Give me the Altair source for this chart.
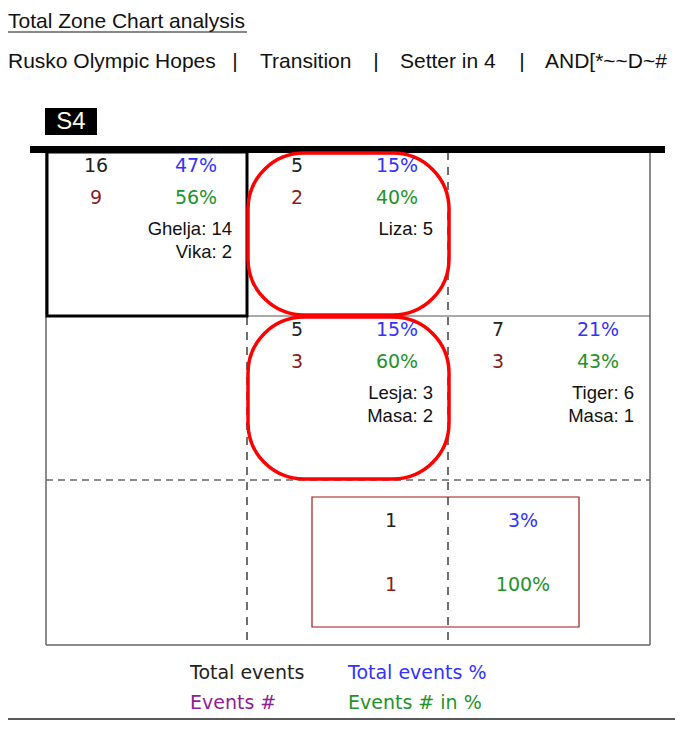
import altair as alt
import pandas as pd

# ---------------- data ----------------
title = "Total Zone Chart analysis"
subtitle_parts = ["Rusko Olympic Hopes", "Transition", "Setter in 4", "AND[*~~D~#"]
rotation = "S4"

zone_ids = ["4", "3", "8", "9"]
zone_col = [0, 1, 1, 2]
zone_row = [0, 0, 1, 1]
zone_total = [16, 5, 5, 7]
zone_total_pct = ["47%", "15%", "15%", "21%"]
zone_events = [9, 2, 3, 3]
zone_events_pct = ["56%", "40%", "60%", "43%"]
zone_players = [["Ghelja: 14", "Vika: 2"], ["Liza: 5"], ["Lesja: 3", "Masa: 2"], ["Tiger: 6", "Masa: 1"]]

back_total = [1]
back_total_pct = ["3%"]
back_events = [1]
back_events_pct = ["100%"]

highlight_zone = ["4"]
circled_zones = ["3", "8"]

legend_labels = ["Total events", "Total events %", "Events #", "Events # in %"]

# ---------------- geometry / style ----------------
COL_X = [46, 247, 448, 650]
ROW_Y = [152, 316, 480, 645]
SUB_X = [8, 260, 400, 545]          # start of each subtitle segment
SEP_X = [235, 376, 522]             # separator bars
BLUE = "#3232ff"
GREEN = "#24922a"
DARKRED = "#8b1c1c"
PURPLE = "#8e1e96"
NUMFONT = "DejaVu Sans"
NAMEFONT = "Liberation Sans"

W, H = 667, 715
xs = alt.Scale(domain=[8, 8 + W], range=[0, W], nice=False, zero=False)
ys = alt.Scale(domain=[8, 8 + H], range=[0, H], nice=False, zero=False)


def X(f="x"):
    return alt.X(f"{f}:Q", scale=xs, axis=None)


def Y(f="y"):
    return alt.Y(f"{f}:Q", scale=ys, axis=None)


def texts(rows, **kw):
    df = pd.DataFrame(rows, columns=["x", "y", "t", "c"])
    return alt.Chart(df).mark_text(baseline="middle", **kw).encode(
        x=X(), y=Y(), text="t:N", color=alt.Color("c:N", scale=None)
    )


def rects(rows, **kw):
    df = pd.DataFrame(rows, columns=["x", "x2", "y", "y2"])
    return alt.Chart(df).mark_rect(fill=None, **kw).encode(
        x=X(), x2="x2:Q", y=Y(), y2="y2:Q"
    )


def rules(rows, **kw):
    df = pd.DataFrame(rows, columns=["x", "x2", "y", "y2"])
    return alt.Chart(df).mark_rule(**kw).encode(
        x=X(), x2="x2:Q", y=Y(), y2="y2:Q"
    )


layers = []

# header
layers.append(texts([[8, 22, title, "#111"]], align="left", font=NAMEFONT, fontSize=21))
layers.append(rules([[8, 247, 32, 32]], color="#111", strokeWidth=1))
layers.append(texts([[x, 62, p, "#111"] for x, p in zip(SUB_X, subtitle_parts)],
                    align="left", font=NAMEFONT, fontSize=21))
layers.append(texts([[x, 62, "|", "#111"] for x in SEP_X], align="center", font=NAMEFONT, fontSize=21))

# rotation badge
layers.append(alt.Chart(pd.DataFrame({"x": [45], "x2": [97], "y": [108], "y2": [135]}))
              .mark_rect(color="black").encode(x=X(), x2="x2:Q", y=Y(), y2="y2:Q"))
layers.append(texts([[71, 122, rotation, "#fffbe0"]], align="center", font=NAMEFONT, fontSize=24))

# court lines
L, R = COL_X[0], COL_X[-1]
T, B = ROW_Y[0], ROW_Y[-1]
layers.append(rules([[L, L, T, B], [R, R, T, B], [L, R, B, B]], color="#666", strokeWidth=1.5))
layers.append(rules([[L, R, ROW_Y[1], ROW_Y[1]]], color="#555", strokeWidth=1.2))
layers.append(rules([[L, R, ROW_Y[2], ROW_Y[2]]], color="#666", strokeWidth=1.3, strokeDash=[7, 5]))
layers.append(rules([[COL_X[1], COL_X[1], T, B], [COL_X[2], COL_X[2], T, B]],
                    color="#222", strokeWidth=1.3, strokeDash=[8, 7]))
# net
layers.append(rules([[30, 665, 149.5, 149.5]], color="black", strokeWidth=7))
# bottom frame line
layers.append(rules([[0, 683, 719, 719]], color="#222", strokeWidth=1.5))

# zone texts
zrows_top, zrows_pct, names = [], [], []
hl, circ = [], []
for zid, c, r, tot, tp, ev, ep, pl in zip(zone_ids, zone_col, zone_row, zone_total,
                                         zone_total_pct, zone_events, zone_events_pct, zone_players):
    x0, y0 = COL_X[c], ROW_Y[r]
    zrows_top += [[x0 + 50, y0 + 14, str(tot), "#222"], [x0 + 150, y0 + 14, tp, BLUE]]
    zrows_pct += [[x0 + 50, y0 + 46, str(ev), DARKRED], [x0 + 150, y0 + 46, ep, GREEN]]
    for i, p in enumerate(pl):
        names.append([x0 + 186, y0 + 77 + 23 * i, p, "#111"])
    if zid in highlight_zone:
        hl.append([x0 + 1, COL_X[c + 1], y0, ROW_Y[r + 1]])
    if zid in circled_zones:
        circ.append([x0 + 1, COL_X[c + 1] + 1, y0 + 1, ROW_Y[r + 1] - 1])

layers.append(rects(hl, stroke="black", strokeWidth=3))
layers.append(rects(circ, stroke="#ff0000", strokeWidth=3.5, cornerRadius=56))
layers.append(texts(zrows_top + zrows_pct, align="center", font=NUMFONT, fontSize=19))
layers.append(texts(names, align="right", font=NAMEFONT, fontSize=18.5))

# back-row box
bx0, bx1, by0, by1 = 312, 579, 497, 627
layers.append(rects([[bx0, bx1, by0, by1]], stroke="#a01818", strokeWidth=1.2))
brow = []
for tot, tp, ev, ep in zip(back_total, back_total_pct, back_events, back_events_pct):
    brow += [[bx0 + 79, by0 + 24, str(tot), "#222"], [bx0 + 211, by0 + 24, tp, BLUE],
             [bx0 + 79, by0 + 88, str(ev), DARKRED], [bx0 + 211, by0 + 88, ep, GREEN]]
layers.append(texts(brow, align="center", font=NUMFONT, fontSize=19))

# legend
leg_pos = [[190, 673], [348, 673], [190, 703], [348, 703]]
leg_col = ["#222", BLUE, PURPLE, GREEN]
layers.append(texts([[p[0], p[1], lab, col] for p, lab, col in zip(leg_pos, legend_labels, leg_col)],
                    align="left", font=NUMFONT, fontSize=19))

chart = alt.layer(*layers).properties(
    width=W, height=H, autosize=alt.AutoSizeParams(type="none"), padding=0
).configure_view(stroke=None)

chart.save("out.html", embed_options={"renderer": "svg", "actions": False})
